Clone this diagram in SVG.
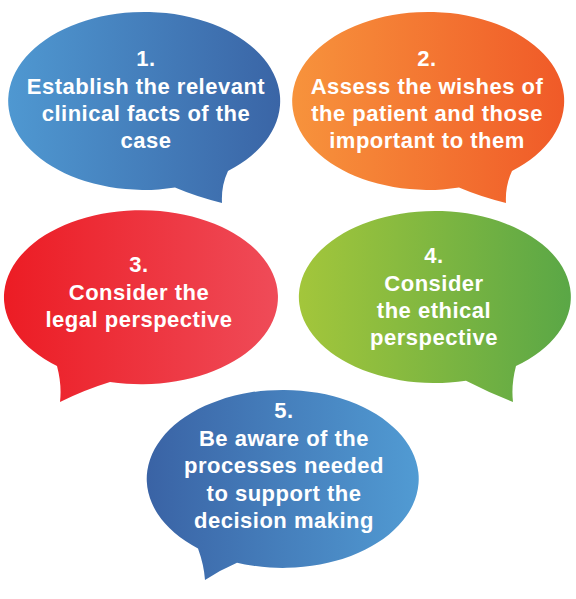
<svg xmlns="http://www.w3.org/2000/svg" width="576" height="599" viewBox="0 0 576 599">
<defs>
<linearGradient id="g1" gradientUnits="userSpaceOnUse" x1="8" y1="0" x2="280" y2="0"><stop offset="0" stop-color="#4f98d1"/><stop offset="1" stop-color="#3a65a6"/></linearGradient>
<linearGradient id="g2" gradientUnits="userSpaceOnUse" x1="292" y1="0" x2="564" y2="0"><stop offset="0" stop-color="#f7933c"/><stop offset="1" stop-color="#f05a28"/></linearGradient>
<linearGradient id="g3" gradientUnits="userSpaceOnUse" x1="3" y1="0" x2="277" y2="0"><stop offset="0" stop-color="#ec1c24"/><stop offset="1" stop-color="#ef4b58"/></linearGradient>
<linearGradient id="g4" gradientUnits="userSpaceOnUse" x1="299" y1="0" x2="571" y2="0"><stop offset="0" stop-color="#a3c63b"/><stop offset="1" stop-color="#5aa746"/></linearGradient>
<linearGradient id="g5" gradientUnits="userSpaceOnUse" x1="147" y1="0" x2="419" y2="0"><stop offset="0" stop-color="#3a63a5"/><stop offset="1" stop-color="#519bd3"/></linearGradient>
</defs>
<style>
text{font-family:"Liberation Sans",Arial,sans-serif;font-weight:bold;font-size:22px;fill:#fff;text-anchor:middle;letter-spacing:0.5px}
</style>
<rect width="576" height="599" fill="#fff"/>
<g id="connectors"></g>
<g id="node1">
<path d="M 228 171 A 136 89 0 1 0 175 187.6 Q 197 197 222 203 Q 221 186 228 171 Z" fill="url(#g1)"/>
<text x="146" y="66">1.</text>
<text x="146" y="94">Establish the relevant</text>
<text x="146" y="121">clinical facts of the</text>
<text x="146" y="148">case</text>
</g>
<g id="node2">
<path d="M 512 171 A 136 89 0 1 0 459 187.6 Q 481 197 506 203 Q 505 186 512 171 Z" fill="url(#g2)"/>
<text x="427" y="66">2.</text>
<text x="427" y="94">Assess the wishes of</text>
<text x="427" y="121">the patient and those</text>
<text x="427" y="148">important to them</text>
</g>
<g id="node3">
<path d="M 110 382 A 137 87 0 1 0 57 366 Q 62 385 60 402 Q 84 390 110 382 Z" fill="url(#g3)"/>
<text x="139" y="272">3.</text>
<text x="139" y="300">Consider the</text>
<text x="139" y="327">legal perspective</text>
</g>
<g id="node4">
<path d="M 516 366 A 136 86 0 1 0 466 380.7 Q 490 393 513 402 Q 511 385 516 366 Z" fill="url(#g4)"/>
<text x="434" y="263">4.</text>
<text x="434" y="291">Consider</text>
<text x="434" y="318">the ethical</text>
<text x="434" y="345">perspective</text>
</g>
<g id="node5">
<path d="M 237 562.7 A 136 89 0 1 0 198 548.5 Q 204 565 205 580 Q 220 570 237 562.7 Z" fill="url(#g5)"/>
<text x="284" y="418">5.</text>
<text x="284" y="446">Be aware of the</text>
<text x="284" y="473">processes needed</text>
<text x="284" y="501">to support the</text>
<text x="284" y="528">decision making</text>
</g>
</svg>
